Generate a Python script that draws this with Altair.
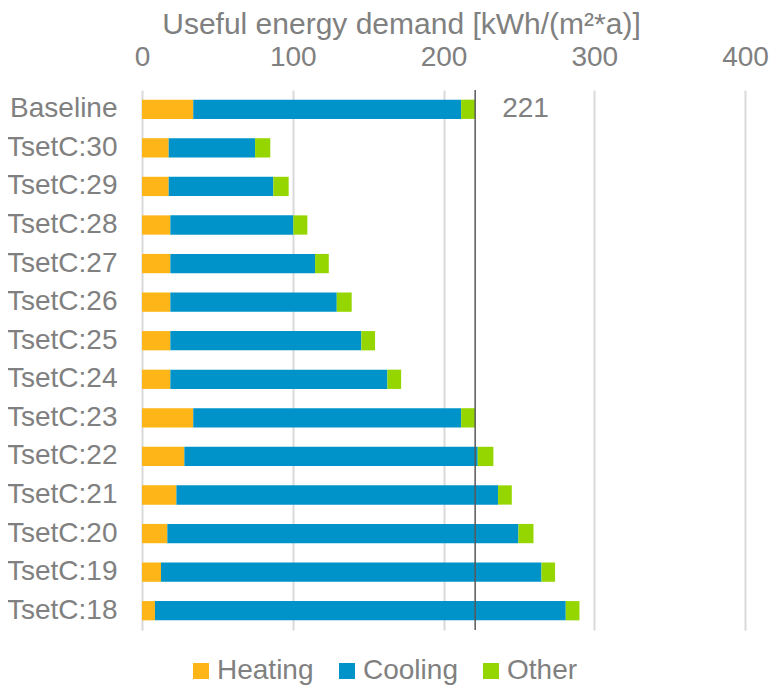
import altair as alt
import pandas as pd

categories = ["Baseline", "TsetC:30", "TsetC:29", "TsetC:28", "TsetC:27", "TsetC:26",
              "TsetC:25", "TsetC:24", "TsetC:23", "TsetC:22", "TsetC:21", "TsetC:20",
              "TsetC:19", "TsetC:18"]
heating = [34.0, 17.7, 17.7, 18.8, 18.8, 18.8, 18.8, 18.8, 34.0, 28.1, 22.8, 16.8, 12.6, 8.6]
cooling = [177.7, 57.3, 69.4, 81.6, 96.0, 110.4, 126.7, 144.0, 177.7, 194.6, 213.4, 232.9, 252.4, 272.5]
other = [9.3, 10.1, 10.2, 9.3, 9.1, 9.9, 9.1, 9.1, 9.3, 10.4, 9.1, 10.0, 9.0, 9.1]
series = ["Heating", "Cooling", "Other"]
colors = ["#FDB517", "#0093C9", "#96D600"]
ref_value = 221
ref_label = "221"

rows = []
for i, c in enumerate(categories):
    for k, (s, vals) in enumerate(zip(series, [heating, cooling, other])):
        rows.append({"category": c, "series": s, "value": vals[i], "order": k})
df = pd.DataFrame(rows)

FONT = "Liberation Sans"
GRAY = "#808080"

bars = alt.Chart(df).mark_bar().encode(
    x=alt.X("sum(value):Q",
            scale=alt.Scale(domain=[0, 400], nice=False),
            axis=alt.Axis(orient="top", values=[0, 100, 200, 300, 400],
                          title="Useful energy demand [kWh/(m²*a)]",
                          titleFontSize=30, titleFont=FONT, titleFontWeight="normal",
                          titleColor=GRAY, titlePadding=4, titleX=259, titleAlign="center",
                          labelFontSize=28, labelFont=FONT, labelColor=GRAY,
                          labelPadding=19, labelFlush=False, ticks=False, domain=False,
                          grid=True, gridColor="#D9D9D9", gridWidth=2)),
    y=alt.Y("category:N", sort=categories,
            scale=alt.Scale(paddingInner=0.5, paddingOuter=0.25),
            axis=alt.Axis(title=None, ticks=False, domain=False, grid=False,
                          labelFontSize=28, labelFont=FONT, labelColor=GRAY,
                          labelPadding=25)),
    color=alt.Color("series:N", sort=series,
                    scale=alt.Scale(domain=series, range=colors),
                    legend=alt.Legend(title=None, orient="none", direction="horizontal",
                                      legendX=45, legendY=567,
                                      labelFontSize=28, labelFont=FONT, labelColor=GRAY,
                                      symbolType="square", symbolSize=256,
                                      symbolStrokeWidth=0, labelOffset=2,
                                      columnPadding=19)),
    order=alt.Order("order:Q"),
)

ref_df = pd.DataFrame({"value": [ref_value], "label": [ref_label], "category": [categories[0]]})

rule = alt.Chart(ref_df).mark_rule(color="#595959", strokeWidth=1.5).encode(
    x=alt.X("value:Q")
)

txt = alt.Chart(ref_df).mark_text(align="left", baseline="middle", dx=27, dy=0,
                                   fontSize=28, font=FONT, color=GRAY).encode(
    x=alt.X("value:Q"),
    y=alt.Y("category:N", sort=categories),
    text="label:N",
)

chart = alt.layer(bars, rule, txt).properties(
    width=603, height=540,
    autosize=alt.AutoSizeParams(type="none"),
    padding={"left": 134, "top": 82, "right": 24, "bottom": 58},
).configure(background="white").configure_view(strokeWidth=0)

chart.save("out.html", embed_options={"renderer": "svg", "actions": False})
